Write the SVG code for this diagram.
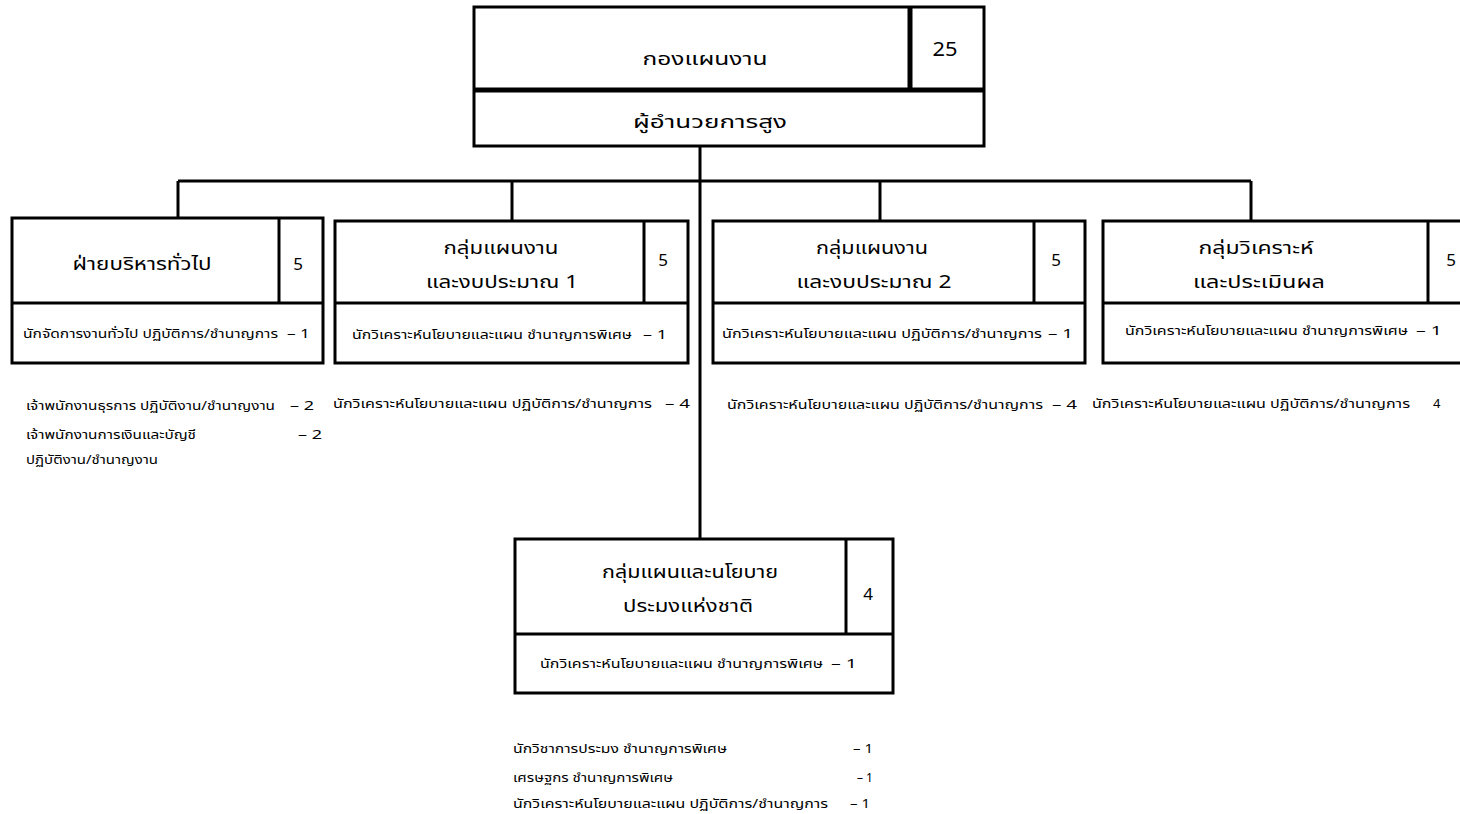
<svg xmlns="http://www.w3.org/2000/svg" width="1460" height="814" viewBox="0 0 1460 814">
<style>
.box{fill:#fff;stroke:#000;stroke-width:3}
.dv{stroke:#000;stroke-width:3}
.dvb{stroke:#000;stroke-width:5}
text{font-family:"Noto Sans Thai","Noto Sans","Liberation Sans","DejaVu Sans",sans-serif;fill:#000}
.title{font-size:18px;text-anchor:middle}
.num{font-size:17px;text-anchor:middle}
.big{font-size:20px}
.s{font-size:13px}
.conn line{stroke:#000;stroke-width:3}
</style>
<rect width="1460" height="814" fill="#fff"/>
<g id="connectors" class="conn">
<line x1="700" y1="146" x2="700" y2="539"/>
<line x1="178" y1="181" x2="1251" y2="181"/>
<line x1="178" y1="181" x2="178" y2="218"/>
<line x1="512" y1="181" x2="512" y2="221"/>
<line x1="880" y1="181" x2="880" y2="221"/>
<line x1="1251" y1="181" x2="1251" y2="221"/>
</g>
<g id="node-top">
<rect class="box" x="474" y="7" width="510" height="139"/>
<line class="dvb" x1="474" y1="90" x2="984" y2="90"/>
<line class="dvb" x1="910" y1="7" x2="910" y2="90"/>
<text class="title" x="705" y="65" textLength="125" lengthAdjust="spacingAndGlyphs">กองแผนงาน</text>
<text class="num big" x="945" y="56" textLength="25" lengthAdjust="spacingAndGlyphs">25</text>
<text class="title" x="710" y="128" textLength="154" lengthAdjust="spacingAndGlyphs">ผู้อำนวยการสูง</text>
</g>
<g id="node-admin">
<rect class="box" x="12" y="218" width="311" height="145"/>
<line class="dv" x1="12" y1="303" x2="323" y2="303"/>
<line class="dv" x1="279" y1="218" x2="279" y2="303"/>
<text class="title" x="142" y="270" textLength="139" lengthAdjust="spacingAndGlyphs">ฝ่ายบริหารทั่วไป</text>
<text class="num" x="298" y="270">5</text>
<text class="s" x="23" y="338" textLength="255" lengthAdjust="spacingAndGlyphs">นักจัดการงานทั่วไป  ปฏิบัติการ/ชำนาญการ</text>
<text class="s" x="287" y="338" textLength="23" lengthAdjust="spacingAndGlyphs">– 1</text>
<text class="s" x="26" y="410" textLength="249" lengthAdjust="spacingAndGlyphs">เจ้าพนักงานธุรการ  ปฏิบัติงาน/ชำนาญงาน</text>
<text class="s" x="290" y="410" textLength="24" lengthAdjust="spacingAndGlyphs">– 2</text>
<text class="s" x="26" y="439" textLength="170" lengthAdjust="spacingAndGlyphs">เจ้าพนักงานการเงินและบัญชี</text>
<text class="s" x="298" y="439" textLength="24" lengthAdjust="spacingAndGlyphs">– 2</text>
<text class="s" x="26" y="464" textLength="132" lengthAdjust="spacingAndGlyphs">ปฏิบัติงาน/ชำนาญงาน</text>
</g>
<g id="node-plan1">
<rect class="box" x="335" y="221" width="353" height="142"/>
<line class="dv" x1="335" y1="303" x2="688" y2="303"/>
<line class="dv" x1="644" y1="221" x2="644" y2="303"/>
<text class="title" x="501" y="254" textLength="115" lengthAdjust="spacingAndGlyphs">กลุ่มแผนงาน</text>
<text class="title" x="502" y="288" textLength="152" lengthAdjust="spacingAndGlyphs">และงบประมาณ 1</text>
<text class="num" x="663" y="266">5</text>
<text class="s" x="352" y="339" textLength="280" lengthAdjust="spacingAndGlyphs">นักวิเคราะห์นโยบายและแผน  ชำนาญการพิเศษ</text>
<text class="s" x="643" y="339" textLength="24" lengthAdjust="spacingAndGlyphs">– 1</text>
<text class="s" x="333" y="408" textLength="319" lengthAdjust="spacingAndGlyphs">นักวิเคราะห์นโยบายและแผน  ปฏิบัติการ/ชำนาญการ</text>
<text class="s" x="665" y="408" textLength="25" lengthAdjust="spacingAndGlyphs">– 4</text>
</g>
<g id="node-plan2">
<rect class="box" x="713" y="221" width="372" height="142"/>
<line class="dv" x1="713" y1="303" x2="1085" y2="303"/>
<line class="dv" x1="1034" y1="221" x2="1034" y2="303"/>
<text class="title" x="872" y="254" textLength="112" lengthAdjust="spacingAndGlyphs">กลุ่มแผนงาน</text>
<text class="title" x="874" y="288" textLength="155" lengthAdjust="spacingAndGlyphs">และงบประมาณ 2</text>
<text class="num" x="1056" y="266">5</text>
<text class="s" x="722" y="338" textLength="320" lengthAdjust="spacingAndGlyphs">นักวิเคราะห์นโยบายและแผน  ปฏิบัติการ/ชำนาญการ</text>
<text class="s" x="1048" y="338" textLength="25" lengthAdjust="spacingAndGlyphs">– 1</text>
<text class="s" x="727" y="409" textLength="316" lengthAdjust="spacingAndGlyphs">นักวิเคราะห์นโยบายและแผน  ปฏิบัติการ/ชำนาญการ</text>
<text class="s" x="1052" y="409" textLength="25" lengthAdjust="spacingAndGlyphs">– 4</text>
</g>
<g id="node-eval">
<rect class="box" x="1103" y="221" width="400" height="142"/>
<line class="dv" x1="1103" y1="303" x2="1503" y2="303"/>
<line class="dv" x1="1428" y1="221" x2="1428" y2="303"/>
<text class="title" x="1256" y="254" textLength="115" lengthAdjust="spacingAndGlyphs">กลุ่มวิเคราะห์</text>
<text class="title" x="1259" y="288" textLength="132" lengthAdjust="spacingAndGlyphs">และประเมินผล</text>
<text class="num" x="1451" y="266">5</text>
<text class="s" x="1125" y="335" textLength="283" lengthAdjust="spacingAndGlyphs">นักวิเคราะห์นโยบายและแผน  ชำนาญการพิเศษ</text>
<text class="s" x="1416" y="335" textLength="26" lengthAdjust="spacingAndGlyphs">– 1</text>
<text class="s" x="1092" y="408" textLength="318" lengthAdjust="spacingAndGlyphs">นักวิเคราะห์นโยบายและแผน  ปฏิบัติการ/ชำนาญการ</text>
<text class="s" x="1433" y="408">4</text>
</g>
<g id="node-policy">
<rect class="box" x="515" y="539" width="378" height="154"/>
<line class="dv" x1="515" y1="634" x2="893" y2="634"/>
<line class="dv" x1="846" y1="539" x2="846" y2="634"/>
<text class="title" x="690" y="578" textLength="176" lengthAdjust="spacingAndGlyphs">กลุ่มแผนและนโยบาย</text>
<text class="title" x="688" y="612" textLength="130" lengthAdjust="spacingAndGlyphs">ประมงแห่งชาติ</text>
<text class="num" x="868" y="600">4</text>
<text class="s" x="540" y="668" textLength="283" lengthAdjust="spacingAndGlyphs">นักวิเคราะห์นโยบายและแผน  ชำนาญการพิเศษ</text>
<text class="s" x="831" y="668" textLength="26" lengthAdjust="spacingAndGlyphs">– 1</text>
<text class="s" x="513" y="753" textLength="214" lengthAdjust="spacingAndGlyphs">นักวิชาการประมง  ชำนาญการพิเศษ</text>
<text class="s" x="853" y="753" textLength="20" lengthAdjust="spacingAndGlyphs">– 1</text>
<text class="s" x="513" y="782" textLength="160" lengthAdjust="spacingAndGlyphs">เศรษฐกร  ชำนาญการพิเศษ</text>
<text class="s" x="857" y="782" textLength="16" lengthAdjust="spacingAndGlyphs">– 1</text>
<text class="s" x="513" y="808" textLength="315" lengthAdjust="spacingAndGlyphs">นักวิเคราะห์นโยบายและแผน  ปฏิบัติการ/ชำนาญการ</text>
<text class="s" x="850" y="808" textLength="20" lengthAdjust="spacingAndGlyphs">– 1</text>
</g>
</svg>
